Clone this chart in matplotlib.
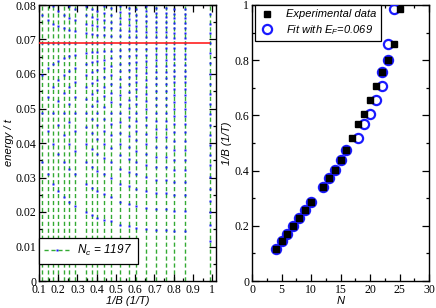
import matplotlib
matplotlib.use('Agg')
import matplotlib.pyplot as plt
from matplotlib.ticker import MultipleLocator, FuncFormatter
from matplotlib.lines import Line2D

# ---------------- data ----------------
inv_B = [0.117, 0.145, 0.171, 0.199, 0.229, 0.256, 0.285, 0.342, 0.374, 0.401,
         0.437, 0.475, 0.519, 0.569, 0.604, 0.657, 0.707, 0.758, 0.800, 0.859, 0.986]
N_exp = [4, 5, 6, 7, 8, 9, 10, 12, 13, 14, 15, 16, 17, 18, 19, 20, 21, 22, 23, 24, 25]
N_fit = [4, 5, 6, 7, 8, 9, 10, 12, 13, 14, 15, 16, 18, 19, 20, 21, 22, 22, 23, 23, 24]
E_F = 0.069
N_c = 1197

# energy levels (energy / t), one list per 1/B value
lev_N4 = [0.0345, 0.0488, 0.0598, 0.0690, 0.0771]
lev_N5 = [0.0309, 0.0436, 0.0534, 0.0617, 0.0690, 0.0756]
lev_N6 = [0.0282, 0.0398, 0.0488, 0.0563, 0.0630, 0.0690, 0.0745, 0.0797]
lev_N7 = [0.0261, 0.0369, 0.0452, 0.0522, 0.0583, 0.0639, 0.0690, 0.0738, 0.0782]
lev_N8 = [0.0244, 0.0345, 0.0423, 0.0488, 0.0545, 0.0598, 0.0645, 0.0690, 0.0732, 0.0771]
lev_N9 = [0.0230, 0.0325, 0.0398, 0.0460, 0.0514, 0.0563, 0.0609, 0.0651, 0.0690, 0.0727,
          0.0763, 0.0797]
lev_N10 = [0.0218, 0.0309, 0.0378, 0.0436, 0.0488, 0.0534, 0.0577, 0.0617, 0.0655, 0.0690,
           0.0724, 0.0756, 0.0787]
lev_N12 = [0.0199, 0.0282, 0.0345, 0.0398, 0.0445, 0.0488, 0.0527, 0.0563, 0.0598, 0.0630,
           0.0661, 0.0690, 0.0718, 0.0745, 0.0771, 0.0797]
lev_N13 = [0.0191, 0.0271, 0.0331, 0.0383, 0.0428, 0.0469, 0.0506, 0.0541, 0.0574, 0.0605,
           0.0635, 0.0663, 0.0690, 0.0716, 0.0741, 0.0765, 0.0789]
lev_N14 = [0.0184, 0.0261, 0.0319, 0.0369, 0.0412, 0.0452, 0.0488, 0.0522, 0.0553, 0.0583,
           0.0612, 0.0639, 0.0665, 0.0690, 0.0714, 0.0738, 0.0760, 0.0782]
lev_N15 = [0.0178, 0.0252, 0.0309, 0.0356, 0.0398, 0.0436, 0.0471, 0.0504, 0.0535, 0.0563,
           0.0591, 0.0617, 0.0642, 0.0667, 0.0690, 0.0713, 0.0735, 0.0756, 0.0777, 0.0797]
lev_N16 = [0.0173, 0.0244, 0.0299, 0.0345, 0.0386, 0.0423, 0.0456, 0.0488, 0.0518, 0.0546,
           0.0572, 0.0598, 0.0622, 0.0645, 0.0668, 0.0690, 0.0711, 0.0732, 0.0752, 0.0771,
           0.0791]
lev_N18 = [0.0163, 0.0230, 0.0282, 0.0325, 0.0364, 0.0398, 0.0430, 0.0460, 0.0488, 0.0514,
           0.0539, 0.0563, 0.0586, 0.0609, 0.0630, 0.0651, 0.0671, 0.0690, 0.0709, 0.0727,
           0.0745, 0.0763, 0.0780, 0.0797]
lev_N19 = [0.0158, 0.0224, 0.0274, 0.0317, 0.0354, 0.0388, 0.0419, 0.0448, 0.0475, 0.0501,
           0.0525, 0.0548, 0.0571, 0.0592, 0.0613, 0.0633, 0.0653, 0.0672, 0.0690, 0.0708,
           0.0725, 0.0743, 0.0759, 0.0776, 0.0792]
lev_N20 = [0.0154, 0.0218, 0.0267, 0.0309, 0.0345, 0.0378, 0.0408, 0.0436, 0.0463, 0.0488,
           0.0512, 0.0535, 0.0556, 0.0577, 0.0598, 0.0617, 0.0636, 0.0655, 0.0673, 0.0690,
           0.0707, 0.0724, 0.0740, 0.0756, 0.0772, 0.0787]
lev_N21 = [0.0151, 0.0213, 0.0261, 0.0301, 0.0337, 0.0369, 0.0398, 0.0426, 0.0452, 0.0476,
           0.0499, 0.0522, 0.0543, 0.0563, 0.0583, 0.0602, 0.0621, 0.0639, 0.0656, 0.0673,
           0.0690, 0.0706, 0.0722, 0.0738, 0.0753, 0.0768, 0.0782, 0.0797]
lev_N22 = [0.0147, 0.0208, 0.0255, 0.0294, 0.0329, 0.0360, 0.0389, 0.0416, 0.0441, 0.0465,
           0.0488, 0.0510, 0.0530, 0.0550, 0.0570, 0.0588, 0.0607, 0.0624, 0.0641, 0.0658,
           0.0674, 0.0690, 0.0706, 0.0721, 0.0736, 0.0750, 0.0764, 0.0778, 0.0792]
lev_N23 = [0.0144, 0.0204, 0.0249, 0.0288, 0.0322, 0.0352, 0.0381, 0.0407, 0.0432, 0.0455,
           0.0477, 0.0498, 0.0519, 0.0538, 0.0557, 0.0576, 0.0593, 0.0610, 0.0627, 0.0644,
           0.0659, 0.0675, 0.0690, 0.0705, 0.0719, 0.0734, 0.0748, 0.0761, 0.0775, 0.0788]
lev_last = [0.0117, 0.0163, 0.0199, 0.0233, 0.0267, 0.0301, 0.0335, 0.0365, 0.0394, 0.0424,
            0.0453, 0.0483, 0.0513, 0.0542, 0.0572, 0.0601, 0.0631, 0.0660, 0.0690, 0.0718,
            0.0746, 0.0774]

levels = [lev_N4, lev_N5, lev_N6, lev_N7, lev_N8, lev_N9, lev_N10, lev_N12, lev_N13,
          lev_N14, lev_N15, lev_N16, lev_N18, lev_N19, lev_N20, lev_N21, lev_N22,
          lev_N22, lev_N23, lev_N23, lev_last]

# ---------------- style ----------------
plt.rcParams['mathtext.fontset'] = 'custom'
plt.rcParams['mathtext.it'] = 'Liberation Sans:italic'
plt.rcParams['mathtext.rm'] = 'Liberation Sans:italic'

TICK_FONT = dict(family='Liberation Serif', size=8.5)
LABEL_FONT = dict(family='Liberation Sans', style='italic', size=8)

W, H = 436, 308
fig = plt.figure(figsize=(W / 100, H / 100), dpi=100)
axL = fig.add_axes([39 / W, 1 - 281 / H, (215.5 - 39) / W, 276 / H])
axR = fig.add_axes([252 / W, 1 - 281 / H, (429 - 252) / W, 276 / H])

fmt = FuncFormatter(lambda v, p: '%g' % round(v, 4))


def style_axis(ax):
    ax.tick_params(which='both', direction='in', top=True, right=True, colors='black')
    ax.tick_params(which='major', length=5, width=0.9, pad=2)
    ax.tick_params(which='minor', length=2.5, width=0.9)
    for s in ax.spines.values():
        s.set_linewidth(1.0)
    ax.xaxis.set_major_formatter(fmt)
    ax.yaxis.set_major_formatter(fmt)
    for lab in ax.get_xticklabels() + ax.get_yticklabels():
        lab.set_fontfamily(TICK_FONT['family'])
        lab.set_fontsize(TICK_FONT['size'])


# ---------------- left panel ----------------
line_green = '#33aa33'
dot_blue = '#1a1aff'
for x, lv in zip(inv_B, levels):
    axL.axvline(x, color=line_green, lw=1.0, ls=(0, (3, 2)), zorder=1)
    axL.plot([x] * len(lv), lv, 's', color=dot_blue, ms=2.0, mec='none', zorder=2)

axL.hlines(E_F, 0.1, inv_B[-1], color='#ff2020', lw=1.2, zorder=3)

axL.set_xlim(0.1, 1.017)
axL.set_ylim(0, 0.08)
axL.xaxis.set_major_locator(MultipleLocator(0.1))
axL.xaxis.set_minor_locator(MultipleLocator(0.05))
axL.yaxis.set_major_locator(MultipleLocator(0.01))
axL.yaxis.set_minor_locator(MultipleLocator(0.005))
axL.set_xticks([0.1, 0.2, 0.3, 0.4, 0.5, 0.6, 0.7, 0.8, 0.9, 1.0])
style_axis(axL)
axL.set_xlabel('1/B (1/T)', labelpad=0, **LABEL_FONT)
axL.set_ylabel('energy / t', labelpad=1, **LABEL_FONT)

h_nc = Line2D([], [], color=line_green, lw=1.0, ls=(0, (3, 2)), marker='s', ms=2.0,
              mfc=dot_blue, mec='none')
legL = axL.legend([h_nc], ['N$_c$ = %d' % N_c], loc='lower left',
                  bbox_to_anchor=(0.0, (281 - 263.5) / 276), borderaxespad=0,
                  frameon=True, fancybox=False, numpoints=1, handlelength=2.2,
                  handletextpad=0.6, borderpad=0.45,
                  prop=dict(family='Liberation Sans', style='italic', size=8.5))
legL.get_frame().set_edgecolor('black')
legL.get_frame().set_linewidth(0.9)
legL.get_frame().set_alpha(1)

# ---------------- right panel ----------------
axR.plot(N_fit, inv_B, 'o', ms=6.6, mfc='none', mec='#1a1aff', mew=1.6,
         label='Fit with E$_F$=%g' % E_F, zorder=3)
axR.plot(N_exp, inv_B, 's', ms=4.5, color='black', label='Experimental data', zorder=4)

axR.set_xlim(0, 30)
axR.set_ylim(0, 1)
axR.xaxis.set_major_locator(MultipleLocator(5))
axR.xaxis.set_minor_locator(MultipleLocator(2.5))
axR.yaxis.set_major_locator(MultipleLocator(0.2))
axR.yaxis.set_minor_locator(MultipleLocator(0.1))
style_axis(axR)
axR.set_xlabel('N', labelpad=0, **LABEL_FONT)
axR.set_ylabel('1/B (1/T)', labelpad=2, **LABEL_FONT)

hR, lR = axR.get_legend_handles_labels()
legR = axR.legend(hR[::-1], lR[::-1], loc='upper left',
                  bbox_to_anchor=((255 - 252) / 177, 1.0), borderaxespad=0,
                  frameon=True, fancybox=False, numpoints=1, handlelength=1.4,
                  handletextpad=1.0, borderpad=0.4, labelspacing=0.3,
                  prop=dict(family='Liberation Sans', style='italic', size=8))
legR.get_frame().set_edgecolor('black')
legR.get_frame().set_linewidth(0.9)
legR.get_frame().set_alpha(1)

fig.savefig('out.png', dpi=100)
